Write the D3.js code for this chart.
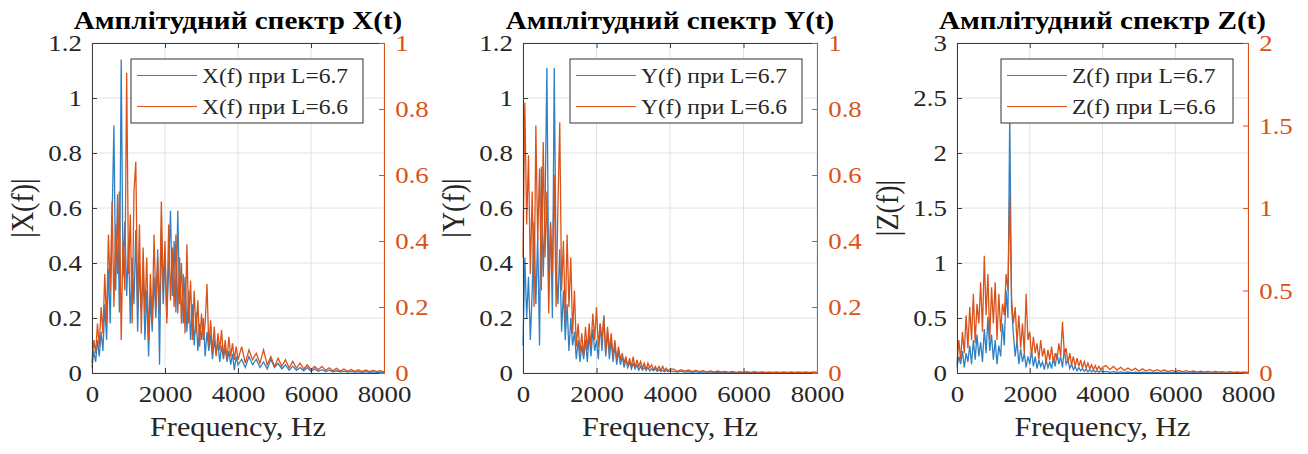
<!DOCTYPE html>
<html>
<head>
<meta charset="utf-8">
<script src="https://cdn.jsdelivr.net/npm/d3@7"></script>
<style>
body { margin:0; background:#fff; }
svg text { font-family:"Liberation Serif","DejaVu Serif","Times New Roman",serif; }
</style>
</head>
<body>
<div class="main__area"></div>
<script>
// frequency grid, Hz
const freqHz=[
    0,50,100,150,200,250,300,350,400,450,
    500,550,600,650,700,750,800,850,900,950,
    1000,1050,1100,1150,1200,1250,1300,1350,1400,1450,
    1500,1550,1600,1650,1700,1750,1800,1850,1900,1950,
    2000,2050,2100,2150,2200,2250,2300,2350,2400,2450,
    2500,2550,2600,2650,2700,2750,2800,2850,2900,2950,
    3000,3050,3100,3150,3200,3250,3300,3350,3400,3450,
    3500,3550,3600,3650,3700,3750,3800,3850,3900,3950,
    4000,
    4100,4200,4300,4400,4500,4600,4700,4800,4900,5000,
    5100,5200,5300,5400,5500,5600,5700,5800,5900,6000,
    6100,6200,6300,6400,6500,6600,6700,6800,6900,7000,
    7100,7200,7300,7400,7500,7600,7700,7800,7900,8000
];

// |X(f)|, L=6.7 (left axis) and L=6.6 (right axis)
const xAmp67=[
    0.02,0.08,0.04,0.12,0.06,0.15,0.08,0.25,0.12,0.38,
    0.18,0.55,0.90,0.30,0.65,0.22,1.14,0.35,0.55,0.28,
    0.48,0.18,0.42,0.25,0.52,0.15,0.40,0.22,0.38,0.12,
    0.30,0.06,0.28,0.15,0.35,0.20,0.45,0.03,0.52,0.25,
    0.42,0.20,0.38,0.59,0.28,0.48,0.22,0.59,0.25,0.40,
    0.18,0.35,0.15,0.30,0.12,0.25,0.10,0.22,0.08,0.18,
    0.12,0.20,0.06,0.15,0.08,0.14,0.05,0.12,0.07,0.11,
    0.04,0.10,0.05,0.09,0.04,0.08,0.03,0.07,0.01,0.06,
    0.03,
    0.05,0.02,0.06,0.03,0.05,0.02,0.04,0.015,0.05,0.02,
    0.035,0.015,0.03,0.01,0.025,0.01,0.02,0.008,0.02,0.006,
    0.015,0.006,0.012,0.005,0.01,0.004,0.008,0.004,0.007,0.003,
    0.006,0.003,0.005,0.002,0.005,0.002,0.004,0.002,0.003,0.002
];
const xAmp66=[
    0.03,0.10,0.06,0.15,0.08,0.20,0.12,0.30,0.15,0.42,
    0.25,0.52,0.20,0.45,0.30,0.55,0.10,0.40,0.25,0.91,
    0.30,0.48,0.15,0.55,0.64,0.20,0.45,0.12,0.38,0.18,
    0.35,0.10,0.30,0.15,0.42,0.20,0.35,0.18,0.52,0.25,
    0.40,0.15,0.45,0.22,0.38,0.20,0.42,0.18,0.35,0.15,
    0.30,0.12,0.39,0.15,0.28,0.10,0.25,0.12,0.22,0.08,
    0.18,0.10,0.15,0.27,0.08,0.16,0.06,0.14,0.05,0.12,
    0.07,0.13,0.05,0.10,0.04,0.11,0.05,0.09,0.04,0.08,
    0.04,
    0.08,0.03,0.07,0.04,0.06,0.03,0.07,0.025,0.05,0.02,
    0.045,0.02,0.04,0.015,0.035,0.015,0.03,0.012,0.025,0.01,
    0.02,0.01,0.02,0.008,0.016,0.007,0.014,0.006,0.012,0.005,
    0.011,0.005,0.01,0.004,0.009,0.004,0.008,0.004,0.007,0.003
];

// |Y(f)|
const yAmp67=[
    0.10,0.42,0.20,0.35,0.12,0.30,0.55,0.25,0.50,0.10,
    0.75,0.35,0.60,1.11,0.30,0.55,0.20,1.11,0.40,0.25,
    0.45,0.15,0.30,0.12,0.25,0.08,0.20,0.10,0.15,0.05,
    0.12,0.04,0.10,0.05,0.12,0.04,0.14,0.06,0.16,0.08,
    0.12,0.05,0.18,0.08,0.21,0.06,0.15,0.05,0.12,0.04,
    0.10,0.03,0.08,0.03,0.06,0.02,0.05,0.02,0.04,0.015,
    0.035,0.015,0.03,0.01,0.025,0.01,0.02,0.01,0.02,0.008,
    0.015,0.008,0.015,0.006,0.012,0.006,0.01,0.005,0.01,0.005,
    0.008,
    0.006,0.003,0.007,0.003,0.005,0.002,0.005,0.002,0.004,0.002,
    0.004,0.002,0.003,0.001,0.003,0.001,0.002,0.001,0.002,0.001,
    0.002,0.001,0.002,0.001,0.002,0.001,0.001,0.001,0.001,0.001,
    0.001,0.001,0.001,0.001,0.001,0.001,0.001,0.001,0.001,0.001
];
const yAmp66=[
    0.35,0.82,0.45,0.66,0.30,0.55,0.20,0.75,0.40,0.62,
    0.25,0.70,0.35,0.55,0.18,0.45,0.30,0.60,0.20,0.50,
    0.76,0.25,0.40,0.15,0.42,0.20,0.35,0.12,0.25,0.08,
    0.15,0.06,0.12,0.05,0.14,0.07,0.15,0.08,0.18,0.10,
    0.20,0.08,0.15,0.10,0.17,0.06,0.14,0.07,0.12,0.05,
    0.10,0.04,0.08,0.04,0.06,0.03,0.05,0.02,0.045,0.02,
    0.05,0.015,0.04,0.02,0.035,0.015,0.03,0.01,0.03,0.015,
    0.025,0.01,0.02,0.01,0.02,0.008,0.02,0.008,0.015,0.006,
    0.012,
    0.012,0.005,0.01,0.006,0.009,0.004,0.008,0.004,0.007,0.003,
    0.006,0.003,0.006,0.003,0.005,0.002,0.005,0.002,0.004,0.002,
    0.004,0.002,0.004,0.002,0.003,0.002,0.003,0.002,0.003,0.002,
    0.003,0.002,0.003,0.002,0.003,0.002,0.003,0.002,0.003,0.002
];

// |Z(f)|
const zAmp67=[
    0.05,0.15,0.08,0.20,0.05,0.18,0.10,0.25,0.08,0.30,
    0.12,0.35,0.15,0.28,0.10,0.40,0.18,0.51,0.20,0.35,
    0.12,0.30,0.08,0.25,0.15,0.45,0.25,0.75,0.50,2.35,
    0.60,0.35,0.15,0.30,0.08,0.22,0.10,0.18,0.05,0.15,
    0.08,0.20,0.06,0.15,0.04,0.12,0.06,0.10,0.03,0.12,
    0.05,0.10,0.04,0.14,0.06,0.18,0.08,0.15,0.05,0.22,
    0.08,0.12,0.04,0.08,0.03,0.06,0.02,0.05,0.02,0.04,
    0.015,0.035,0.01,0.03,0.01,0.025,0.01,0.02,0.008,0.02,
    0.01,
    0.015,0.006,0.012,0.005,0.01,0.004,0.009,0.004,0.008,0.003,
    0.007,0.003,0.006,0.003,0.005,0.002,0.005,0.002,0.004,0.002,
    0.004,0.002,0.003,0.002,0.003,0.001,0.003,0.001,0.002,0.001,
    0.002,0.001,0.002,0.001,0.002,0.001,0.002,0.001,0.002,0.001
];
const zAmp66=[
    0.05,0.20,0.08,0.25,0.12,0.35,0.15,0.40,0.20,0.48,
    0.18,0.42,0.30,0.55,0.25,0.71,0.35,0.60,0.20,0.52,
    0.30,0.55,0.20,0.48,0.25,0.42,0.35,0.60,0.50,1.08,
    0.45,0.30,0.40,0.18,0.35,0.15,0.30,0.12,0.48,0.20,
    0.25,0.10,0.22,0.12,0.18,0.08,0.20,0.10,0.15,0.06,
    0.14,0.08,0.16,0.06,0.12,0.08,0.18,0.10,0.31,0.12,
    0.15,0.06,0.12,0.05,0.10,0.04,0.09,0.04,0.08,0.03,
    0.07,0.03,0.06,0.025,0.05,0.02,0.045,0.02,0.04,0.02,
    0.035,
    0.045,0.02,0.04,0.018,0.035,0.015,0.03,0.015,0.028,0.012,
    0.025,0.012,0.022,0.01,0.02,0.01,0.018,0.008,0.016,0.008,
    0.015,0.007,0.014,0.007,0.012,0.006,0.011,0.006,0.01,0.005,
    0.009,0.005,0.008,0.004,0.008,0.004,0.007,0.004,0.006,0.004
];

const freqTicks=[0,2000,4000,6000,8000];
const leftTicksXY=[0,0.2,0.4,0.6,0.8,1,1.2];
const rightTicksXY=[0,0.2,0.4,0.6,0.8,1];
const leftTicksZ=[0,0.5,1,1.5,2,2.5,3];
const rightTicksZ=[0,0.5,1,1.5,2];
const titles=["Амплітудний спектр X(t)","Амплітудний спектр Y(t)","Амплітудний спектр Z(t)"];
const yLabels=["|X(f)|","|Y(f)|","|Z(f)|"];
const legendNames=[
    ["X(f) при L=6.7","X(f) при L=6.6"],
    ["Y(f) при L=6.7","Y(f) при L=6.6"],
    ["Z(f) при L=6.7","Z(f) при L=6.6"]
];

const width=1308;
const height=454;
const plotTop=43, plotBottom=373;
const stretch=1.12; // reference picture is a bit wider than tall
const blue="#2f80c4", orange="#d95319", ink="#262626";

const panels=[
    { left:92,  right:384,  blue:xAmp67, orange:xAmp66, leftTicks:leftTicksXY, rightTicks:rightTicksXY, legendRight:21 },
    { left:523, right:817,  blue:yAmp67, orange:yAmp66, leftTicks:leftTicksXY, rightTicks:rightTicksXY, legendRight:15 },
    { left:957, right:1248, blue:zAmp67, orange:zAmp66, leftTicks:leftTicksZ,  rightTicks:rightTicksZ,  legendRight:15 }
];

const svgTag=d3.select(".main__area").append("svg")
    .attr("width", width)
    .attr("height", height);

panels.forEach((p, k)=>drawPanel(p, k));

function addText(g, x, y, str, size, anchor) {
    return g.append("text")
        .attr("transform", `translate(${x},${y}) scale(${stretch},1)`)
        .attr("text-anchor", anchor)
        .attr("font-size", size)
        .text(str);
}

function drawPanel(p, k) {
    const x=d3.scaleLinear().domain([0,8000]).range([p.left,p.right]);
    const yL=d3.scaleLinear().domain([0,d3.max(p.leftTicks)]).range([plotBottom,plotTop]);
    const yR=d3.scaleLinear().domain([0,d3.max(p.rightTicks)]).range([plotBottom,plotTop]);
    const g=svgTag.append("g");

    // grid
    g.append("g").selectAll("line").data(freqTicks).join("line")
        .attr("x1", d=>x(d)).attr("x2", d=>x(d))
        .attr("y1", plotTop).attr("y2", plotBottom)
        .attr("stroke", "#e2e2e2");
    g.append("g").selectAll("line").data(p.leftTicks).join("line")
        .attr("x1", p.left).attr("x2", p.right)
        .attr("y1", d=>yL(d)).attr("y2", d=>yL(d))
        .attr("stroke", "#e2e2e2");

    // spectra
    g.append("path").datum(p.blue)
        .attr("d", d3.line().x((d,i)=>x(freqHz[i])).y(d=>yL(d)))
        .attr("fill", "none").attr("stroke", blue).attr("stroke-width", 1.3);
    g.append("path").datum(p.orange)
        .attr("d", d3.line().x((d,i)=>x(freqHz[i])).y(d=>yR(d)))
        .attr("fill", "none").attr("stroke", orange).attr("stroke-width", 1.3);

    // axes
    const fmt=d=>String(d);
    const axB=g.append("g").attr("transform", `translate(0,${plotBottom})`)
        .call(d3.axisBottom(x).tickValues(freqTicks).tickFormat(fmt).tickSize(-5).tickPadding(12));
    const axT=g.append("g").attr("transform", `translate(0,${plotTop})`)
        .call(d3.axisTop(x).tickValues(freqTicks).tickFormat("").tickSize(-5));
    const axL=g.append("g").attr("transform", `translate(${p.left},0)`)
        .call(d3.axisLeft(yL).tickValues(p.leftTicks).tickFormat(fmt).tickSize(-5).tickPadding(9));
    const axR=g.append("g").attr("transform", `translate(${p.right},0)`)
        .call(d3.axisRight(yR).tickValues(p.rightTicks).tickFormat(fmt).tickSize(-5).tickPadding(10));

    [axB, axT, axL].forEach(a=>{
        a.select(".domain").attr("stroke", "#3c3c3c");
        a.selectAll(".tick line").attr("stroke", "#3c3c3c");
        a.selectAll(".tick text").attr("fill", ink);
    });
    axR.select(".domain").attr("stroke", orange);
    axR.selectAll(".tick line").attr("stroke", orange);
    axR.selectAll(".tick text").attr("fill", orange);
    [axB, axL, axR].forEach(a=>{
        a.selectAll(".tick text")
            .attr("font-family", null)
            .attr("font-size", 24)
            .attr("transform", `scale(${stretch},1)`);
    });

    // title and labels
    addText(g, (p.left+p.right)/2, 29, titles[k], 26, "middle")
        .attr("font-weight", "bold").attr("fill", "#000");
    addText(g, (p.left+p.right)/2, 436, "Frequency, Hz", 27, "middle")
        .attr("fill", ink);
    g.append("text")
        .attr("transform", `translate(${p.left-59},${(plotTop+plotBottom)/2}) rotate(-90) scale(1,${stretch})`)
        .attr("text-anchor", "middle")
        .attr("font-size", 28)
        .attr("fill", ink)
        .text(yLabels[k]);

    // legend
    const lgW=232, lgH=64;
    const lg=g.append("g").attr("transform", `translate(${p.right-p.legendRight-lgW},59)`);
    lg.append("rect").attr("width", lgW).attr("height", lgH)
        .attr("fill", "#fff").attr("stroke", "#333").attr("stroke-width", 1);
    [blue, orange].forEach((c, r)=>{
        const ry=16.5+r*31;
        lg.append("line").attr("x1", 6).attr("x2", 66).attr("y1", ry).attr("y2", ry)
            .attr("stroke", c).attr("stroke-width", 1.2);
        addText(lg, 71, ry+7, legendNames[k][r], 21, "start").attr("fill", ink);
    });
}
</script>
</body>
</html>
